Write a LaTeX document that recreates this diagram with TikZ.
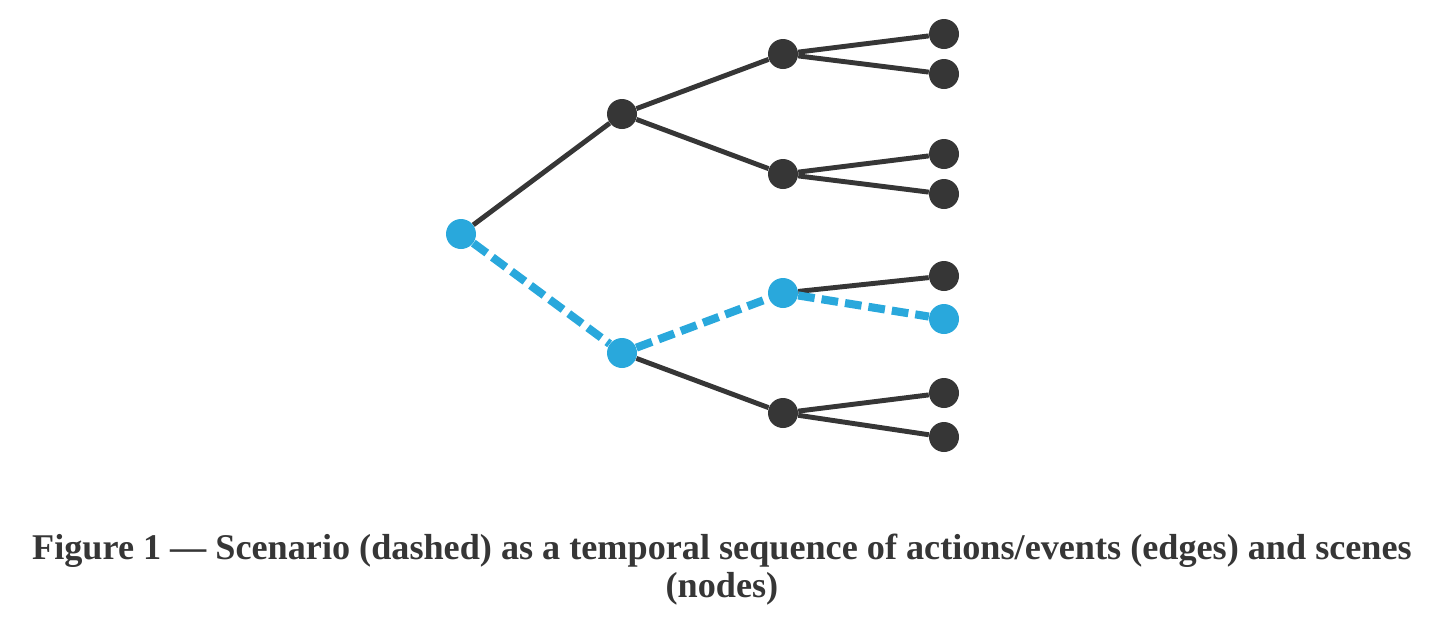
\documentclass[tikz,border=0pt]{standalone}
\usepackage{fontspec}
\setmainfont{Liberation Serif}
\usetikzlibrary{positioning}
\definecolor{scenedark}{HTML}{363636}
\definecolor{sceneblue}{HTML}{29A8DC}
\tikzset{every scene/.style={ % Sets the properties for each scene
circle,
inner sep=0pt,
minimum size=0.6cm,
fill=scenedark},
picked/.style={fill=sceneblue}, % Scenes on the scenario
every edge/.style={ % Sets the properties for each action/event
draw,
line width=2.8pt,
scenedark},
scenario/.style={ % The scenario itself
line width=4.6pt,
sceneblue,
dash pattern=on 9.5pt off 4pt}}

\begin{document}
\begin{tikzpicture}[x=0.02cm, y=-0.02cm]
                \useasboundingbox (0,0) rectangle (1441,620);
                \node[every scene, picked] (r) at (461,234) {};
                \node[every scene] (a) at (622,114) {};
                \node[every scene, picked] (b) at (622,353) {};
                \node[every scene] (aa) at (783,54) {};
                \node[every scene] (ab) at (783,174) {};
                \node[every scene, picked] (ba) at (783,293) {};
                \node[every scene] (bb) at (783,413) {};
                \node[every scene] (aa1) at (944,34) {};
                \node[every scene] (aa2) at (944,74) {};
                \node[every scene] (ab1) at (944,154) {};
                \node[every scene] (ab2) at (944,194) {};
                \node[every scene] (ba1) at (944,276) {};
                \node[every scene, picked] (ba2) at (944,319) {};
                \node[every scene] (bb1) at (944,393) {};
                \node[every scene] (bb2) at (944,437) {};

                \draw (r) edge (a)
                (a) edge (aa)
                (a) edge (ab)
                (aa) edge (aa1)
                (aa) edge (aa2)
                (ab) edge (ab1)
                (ab) edge (ab2)
                (b) edge (bb)
                (ba) edge (ba1)
                (bb) edge (bb1)
                (bb) edge (bb2);
                \draw[scenario] (r) -- (b) -- (ba) -- (ba2);

                \node[font=\bfseries\fontsize{20.6}{21.6}\selectfont, align=center, text=scenedark, inner sep=0pt] (caption) at (722,570)
                {Figure 1 — Scenario (dashed) as a temporal sequence of actions/events (edges) and scenes\\(nodes)};
            \end{tikzpicture}
\end{document}
